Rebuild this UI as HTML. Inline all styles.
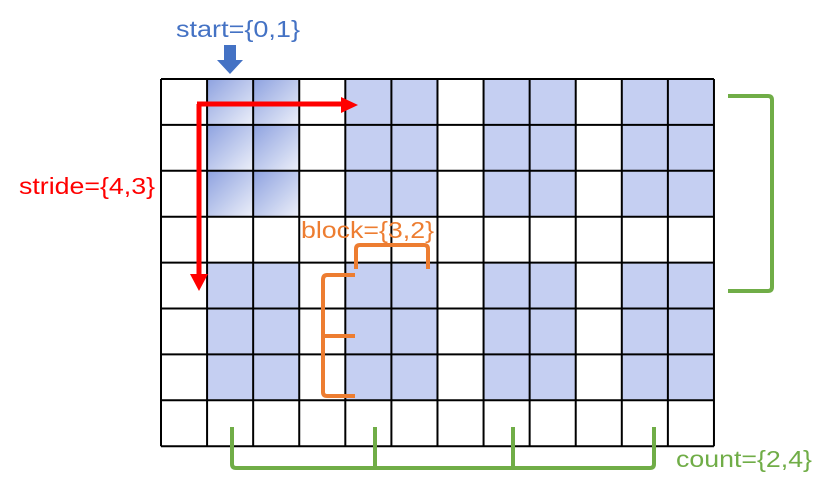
<!DOCTYPE html>
<html><head><meta charset="utf-8"><style>
html,body{margin:0;padding:0;background:#fff;}
svg{display:block;font-family:"Liberation Sans",sans-serif;}
</style></head><body>
<svg id="chart" width="831" height="492" viewBox="0 0 831 492">
<defs>
<linearGradient id="g" x1="0" y1="0" x2="1" y2="1">
<stop offset="0" stop-color="#8ea2e0"/><stop offset="1" stop-color="#eceff9"/>
</linearGradient>
</defs>
<g id="cells"></g>
<g id="grid"></g>
<g>
<text x="176" y="37" font-size="23" textLength="124" lengthAdjust="spacingAndGlyphs" fill="#4472c4">start={0,1}</text>
<path d="M224,45 h12 v15 h7 l-13,14 l-13,-14 h7 z" fill="#4472c4"/>
</g>
<g>
<text x="19" y="194" font-size="23" textLength="136" lengthAdjust="spacingAndGlyphs" fill="#ff0000">stride={4,3}</text>
<path d="M199,104 V275 M197,104 H342" stroke="#ff0000" stroke-width="5" fill="none"/>
<path d="M190,274 h18 l-9,17 z M341,97 v16 l17,-8 z" fill="#ff0000"/>
</g>
<g>
<text x="301" y="238" font-size="23" textLength="133" lengthAdjust="spacingAndGlyphs" fill="#ed7d31">block={3,2}</text>
<path d="M356,269 V249 Q356,245 360,245 H424 Q428,245 428,249 V269" stroke="#ed7d31" stroke-width="4" fill="none"/>
<path d="M355,275 H327 Q323,275 323,280 V392 Q323,396 327,396 H355 M323,336 H355" stroke="#ed7d31" stroke-width="4" fill="none"/>
</g>
<g>
<path d="M728,96 H768 Q772,96 772,100 V287 Q772,291 768,291 H728" stroke="#70ad47" stroke-width="4" fill="none"/>
<path d="M232,427 V464 Q232,468 236,468 H650 Q654,468 654,464 V427 M375,427 V468 M513,427 V468" stroke="#70ad47" stroke-width="4" fill="none"/>
<text x="676" y="467" font-size="23" textLength="136" lengthAdjust="spacingAndGlyphs" fill="#70ad47">count={2,4}</text>
</g>
</svg>
<script>
const start=[0,1];
const stride=[4,3];
const block=[3,2];
const count=[2,4];
const nRows=8, nCols=12;
const x0=161,y0=79,cw=46.08,ch=45.9;
const ns="http://www.w3.org/2000/svg";
const cells=document.getElementById('cells');
for(let i=0;i<count[0];i++)for(let j=0;j<count[1];j++)
for(let a=0;a<block[0];a++)for(let b=0;b<block[1];b++){
 const r=start[0]+i*stride[0]+a, c=start[1]+j*stride[1]+b;
 if(r>=nRows||c>=nCols)continue;
 const el=document.createElementNS(ns,'rect');
 el.setAttribute('x',x0+c*cw);el.setAttribute('y',y0+r*ch);
 el.setAttribute('width',cw);el.setAttribute('height',ch);
 el.setAttribute('fill',(i===0&&j===0)?'url(#g)':'#c5cff2');
 
 
 cells.appendChild(el);
}
const grid=document.getElementById('grid');
for(let r=0;r<=nRows;r++){
 const l=document.createElementNS(ns,'line');
 l.setAttribute('x1',x0);l.setAttribute('x2',x0+nCols*cw);
 l.setAttribute('y1',y0+r*ch);l.setAttribute('y2',y0+r*ch);
 l.setAttribute('stroke','#000');l.setAttribute('stroke-width','2');
 
 
 grid.appendChild(l);
}
for(let c=0;c<=nCols;c++){
 const l=document.createElementNS(ns,'line');
 l.setAttribute('y1',y0);l.setAttribute('y2',y0+nRows*ch);
 l.setAttribute('x1',x0+c*cw);l.setAttribute('x2',x0+c*cw);
 l.setAttribute('stroke','#000');l.setAttribute('stroke-width','2');
 
 
 grid.appendChild(l);
}
</script>
</body></html>
